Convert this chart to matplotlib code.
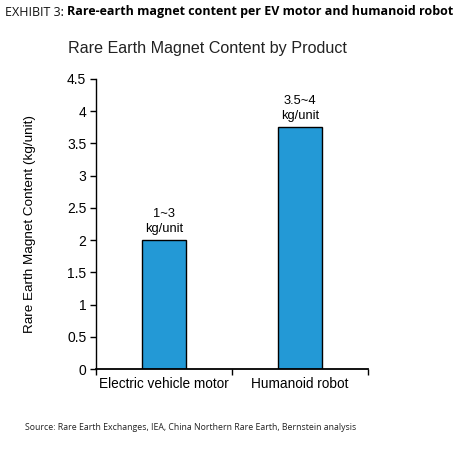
import matplotlib
matplotlib.use('Agg')
import matplotlib.pyplot as plt

# data
categories = ['Electric vehicle motor', 'Humanoid robot']
values = [2.0, 3.75]
labels = ['1~3\nkg/unit', '3.5~4\nkg/unit']
yticks = [0, 0.5, 1, 1.5, 2, 2.5, 3, 3.5, 4, 4.5]

plt.rcParams['font.family'] = ['Liberation Sans', 'DejaVu Sans']

fig = plt.figure(figsize=(4.58, 4.59), dpi=100)
ax = fig.add_axes([0.2096, 0.196, 0.594, 0.632])

x = range(len(categories))
ax.bar(x, values, width=0.32, color='#2399d6', edgecolor='black', linewidth=1.0, zorder=2)
for i, v in enumerate(values):
    ax.annotate(labels[i], (i, v), xytext=(0, 4), textcoords='offset points',
                ha='center', va='bottom', fontsize=9.3, linespacing=1.3)

ax.set_xlim(-0.5, len(categories) - 0.5)
ax.set_ylim(0, 4.5)
ax.set_yticks(yticks)
ax.set_yticklabels([f'{t:g}' for t in yticks], fontsize=10)
# category ticks sit at the boundaries, labels in the middle
ax.set_xticks([-0.5, 0.5, 1.5])
ax.set_xticklabels([])
ax.set_xticks(list(x), minor=True)
ax.set_xticklabels(categories, minor=True, fontsize=9.8)
ax.tick_params(axis='x', which='minor', length=0, pad=6)
ax.tick_params(axis='x', which='major', direction='out', length=4, width=1)
ax.tick_params(axis='y', direction='out', length=4, width=1, pad=3)

ax.spines['top'].set_visible(False)
ax.spines['right'].set_visible(False)
ax.spines['left'].set_linewidth(1)
ax.spines['bottom'].set_linewidth(1.3)

ax.set_ylabel('Rare Earth Magnet Content (kg/unit)', fontsize=9.7, labelpad=22)

fig.text(0.452, 1 - 49 / 459, 'Rare Earth Magnet Content by Product', ha='center', va='center',
         fontsize=11.6, color='#222222')

t1 = fig.text(0.011, 1 - 12 / 459, 'EXHIBIT 3: ', ha='left', va='center', fontsize=9,
              family=['Open Sans', 'DejaVu Sans'], color='#111111')
fig.canvas.draw()
bb = t1.get_window_extent().transformed(fig.transFigure.inverted())
fig.text(bb.x1, 1 - 12 / 459, 'Rare-earth magnet content per EV motor and humanoid robot',
         ha='left', va='center', fontsize=9, family=['Open Sans', 'DejaVu Sans'],
         fontweight='bold', color='black')

fig.text(0.055, 1 - 428 / 459,
         'Source: Rare Earth Exchanges, IEA, China Northern Rare Earth, Bernstein analysis',
         ha='left', va='center', fontsize=6.3, family=['Open Sans', 'DejaVu Sans'], color='#222222')

fig.savefig('out.png', dpi=100)
